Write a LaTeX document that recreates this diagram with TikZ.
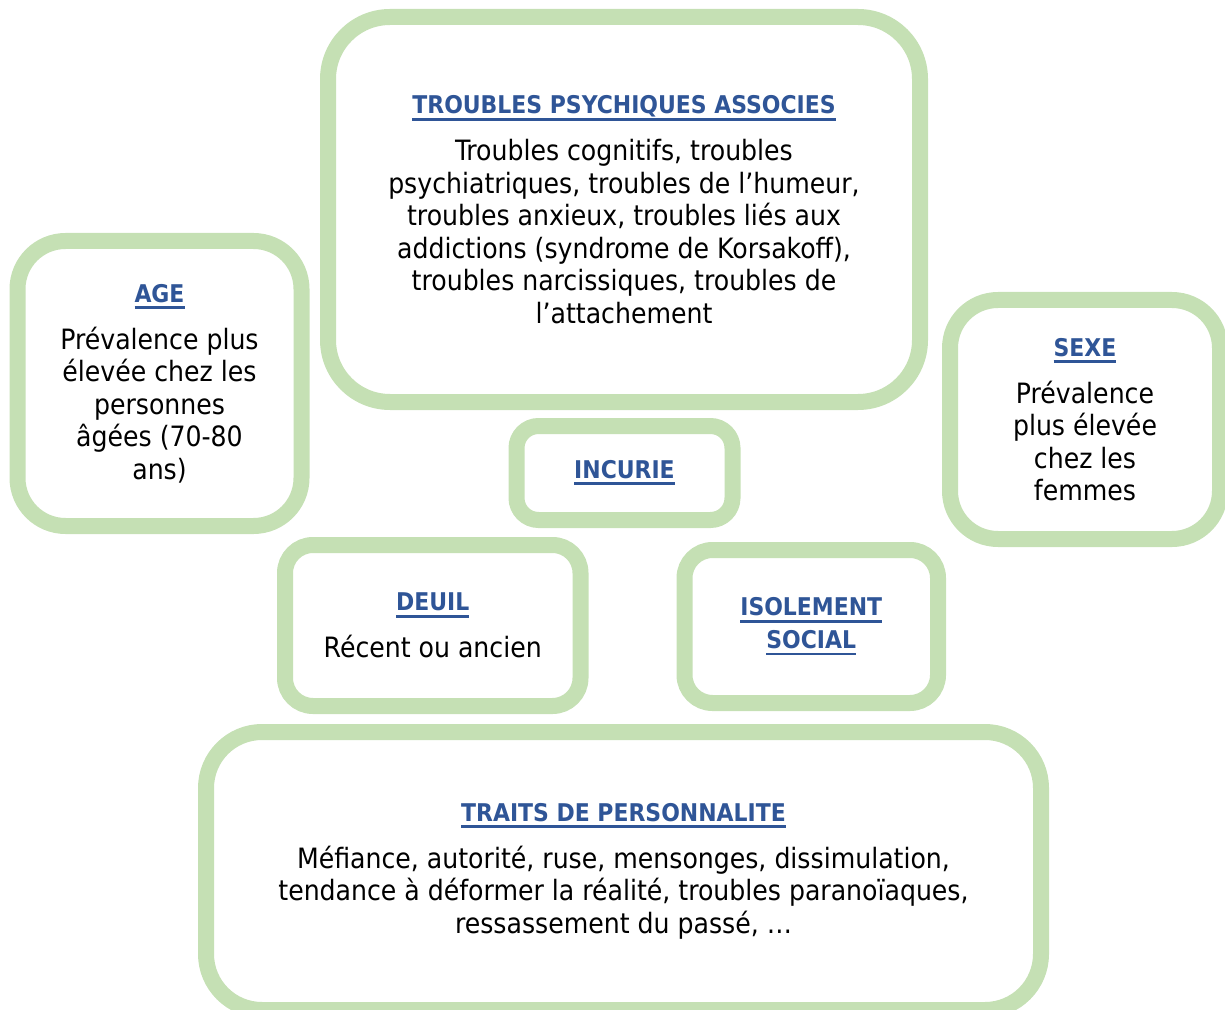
\documentclass[tikz,border=0pt]{standalone}
\usepackage{fontspec}
\setmainfont{DejaVuSansCondensed.ttf}[BoldFont=DejaVuSansCondensed-Bold.ttf]
\definecolor{boxgreen}{HTML}{C5E0B4}
\definecolor{titleblue}{HTML}{2F5597}
\newsavebox{\titrebox}
\newcommand{\titre}[1]{{\fontsize{12.2}{15.5}\selectfont\bfseries\color{titleblue}%
  \sbox{\titrebox}{#1}\rlap{\rule[-3.5pt]{\wd\titrebox}{1.4pt}}\usebox{\titrebox}}}
\tikzset{
  facteur/.style={draw=boxgreen, line width=8pt, fill=white, align=center,
    inner sep=0pt, font=\fontsize{14}{16.25}\selectfont},
}

\begin{document}
\begin{tikzpicture}[x=0.5pt, y=-0.5pt]
  \useasboundingbox (0, 0) rectangle (1225, 1010);
  \begin{scope}
  \clip (0, 0) rectangle (1225, 1010);
  % boites
  \node[facteur, rounded corners=31pt, minimum width=296pt, minimum height=192.5pt]
    (troubles) at (624, 209.5) {\titre{TROUBLES PSYCHIQUES ASSOCIES}\\[7.25pt]
      Troubles cognitifs, troubles\\ psychiatriques, troubles de l’humeur,\\
      troubles anxieux, troubles liés aux\\ addictions (syndrome de Korsakoff),\\
      troubles narcissiques, troubles de\\ l’attachement};
  \node[facteur, rounded corners=24pt, minimum width=142pt, minimum height=142.5pt]
    (age) at (159.5, 383.5) {\titre{AGE}\\[7.25pt]
      Prévalence plus\\ élevée chez les\\ personnes\\ âgées (70-80\\ ans)};
  \node[facteur, rounded corners=24pt, minimum width=135pt, minimum height=119.5pt]
    (sexe) at (1085, 419.5) {\titre{SEXE}\\[7.25pt]
      Prévalence\\ plus élevée\\ chez les\\ femmes};
  \node[facteur, rounded corners=11pt, minimum width=108pt, minimum height=47pt]
    (incurie) at (624.5, 473) {\raisebox{4pt}{\titre{INCURIE}}};
  \node[facteur, rounded corners=14pt, minimum width=147.75pt, minimum height=80.5pt]
    (deuil) at (432.75, 625.5) {\titre{DEUIL}\\[7.25pt] Récent ou ancien};
  \node[facteur, rounded corners=14pt, minimum width=126.75pt, minimum height=76.5pt]
    (isolement) at (811.25, 626.5) {\titre{ISOLEMENT}\\ \titre{SOCIAL}};
  \node[facteur, rounded corners=28pt, minimum width=417.5pt, minimum height=139pt]
    (traits) at (623.5, 871) {\titre{TRAITS DE PERSONNALITE}\\[7.25pt]
      Méfiance, autorité, ruse, mensonges, dissimulation,\\
      tendance à déformer la réalité, troubles paranoïaques,\\
      ressassement du passé, …};
  \end{scope}
\end{tikzpicture}
\end{document}
